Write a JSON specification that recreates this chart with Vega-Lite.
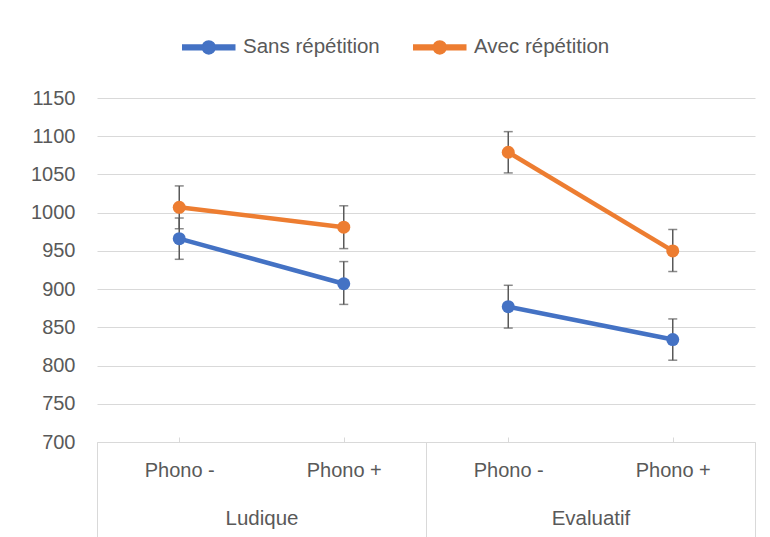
{
  "$schema": "https://vega.github.io/schema/vega-lite/v6.json",
  "width": 658,
  "height": 344,
  "autosize": {"type": "none"},
  "padding": {"left": 97, "top": 98, "right": 15, "bottom": 95},
  "background": "white",
  "config": {
    "view": {"stroke": null},
    "font": "Liberation Sans",
    "axis": {"labelColor": "#595959", "labelFontSize": 20, "titleColor": "#595959"}
  },
  "data": {
    "values": [
      {"groupe": "Ludique", "phono": "Phono -", "cat": "Ludique|Phono -", "serie": "Sans répétition", "moyenne": 966, "bas": 939, "haut": 993},
      {"groupe": "Ludique", "phono": "Phono +", "cat": "Ludique|Phono +", "serie": "Sans répétition", "moyenne": 907, "bas": 880, "haut": 936},
      {"groupe": "Evaluatif", "phono": "Phono -", "cat": "Evaluatif|Phono -", "serie": "Sans répétition", "moyenne": 877, "bas": 849, "haut": 905},
      {"groupe": "Evaluatif", "phono": "Phono +", "cat": "Evaluatif|Phono +", "serie": "Sans répétition", "moyenne": 834, "bas": 807, "haut": 861},
      {"groupe": "Ludique", "phono": "Phono -", "cat": "Ludique|Phono -", "serie": "Avec répétition", "moyenne": 1007, "bas": 979, "haut": 1035},
      {"groupe": "Ludique", "phono": "Phono +", "cat": "Ludique|Phono +", "serie": "Avec répétition", "moyenne": 981, "bas": 953, "haut": 1009},
      {"groupe": "Evaluatif", "phono": "Phono -", "cat": "Evaluatif|Phono -", "serie": "Avec répétition", "moyenne": 1079, "bas": 1052, "haut": 1106},
      {"groupe": "Evaluatif", "phono": "Phono +", "cat": "Evaluatif|Phono +", "serie": "Avec répétition", "moyenne": 950, "bas": 923, "haut": 978}
    ]
  },
  "layer": [
    {
      "encoding": {
        "x": {
          "field": "cat",
          "type": "ordinal",
          "sort": ["Ludique|Phono -", "Ludique|Phono +", "Evaluatif|Phono -", "Evaluatif|Phono +"],
          "scale": {"type": "point", "padding": 0.5},
          "axis": {
            "title": null,
            "orient": "bottom",
            "labelExpr": "split(datum.value, '|')[1]",
            "labelAngle": 0,
            "domain": true,
            "domainColor": "#D9D9D9",
            "domainWidth": 1,
            "ticks": true,
            "tickSize": -5,
            "tickColor": "#D9D9D9",
            "tickWidth": 1,
            "labelPadding": 23,
            "grid": false
          }
        }
      },
      "layer": [
        {
          "mark": {"type": "rule", "color": "#595959", "strokeWidth": 1.5},
          "encoding": {
            "y": {
              "field": "bas",
              "type": "quantitative",
              "scale": {"domain": [700, 1150], "nice": false, "zero": false},
              "axis": {"title": null, "values": [700, 750, 800, 850, 900, 950, 1000, 1050, 1100, 1150], "format": "d", "labelOverlap": false, "domain": false, "ticks": false, "labelPadding": 22, "grid": true, "gridColor": "#D9D9D9", "gridWidth": 1}
            },
            "y2": {"field": "haut"}
          }
        },
        {
          "mark": {"type": "tick", "color": "#595959", "size": 9, "thickness": 1.5, "orient": "horizontal"},
          "encoding": {
            "y": {
              "field": "bas",
              "type": "quantitative",
              "scale": {"domain": [700, 1150], "nice": false, "zero": false},
              "axis": {"title": null, "values": [700, 750, 800, 850, 900, 950, 1000, 1050, 1100, 1150], "format": "d", "labelOverlap": false, "domain": false, "ticks": false, "labelPadding": 22, "grid": true, "gridColor": "#D9D9D9", "gridWidth": 1}
            }
          }
        },
        {
          "mark": {"type": "tick", "color": "#595959", "size": 9, "thickness": 1.5, "orient": "horizontal"},
          "encoding": {
            "y": {
              "field": "haut",
              "type": "quantitative",
              "scale": {"domain": [700, 1150], "nice": false, "zero": false},
              "axis": {"title": null, "values": [700, 750, 800, 850, 900, 950, 1000, 1050, 1100, 1150], "format": "d", "labelOverlap": false, "domain": false, "ticks": false, "labelPadding": 22, "grid": true, "gridColor": "#D9D9D9", "gridWidth": 1}
            }
          }
        },
        {
          "mark": {"type": "line", "strokeWidth": 4.5},
          "encoding": {
            "y": {
              "field": "moyenne",
              "type": "quantitative",
              "scale": {"domain": [700, 1150], "nice": false, "zero": false},
              "axis": {"title": null, "values": [700, 750, 800, 850, 900, 950, 1000, 1050, 1100, 1150], "format": "d", "labelOverlap": false, "domain": false, "ticks": false, "labelPadding": 22, "grid": true, "gridColor": "#D9D9D9", "gridWidth": 1}
            },
            "detail": {"field": "groupe"},
            "color": {
              "field": "serie",
              "type": "nominal",
              "scale": {"domain": ["Sans répétition", "Avec répétition"], "range": ["#4472C4", "#ED7D31"]},
              "legend": {
                "title": null,
                "orient": "none",
                "direction": "horizontal",
                "legendX": 101.5,
                "legendY": -61,
                "padding": 0,
                "labelFontSize": 20.5,
                "labelColor": "#595959",
                "symbolType": "M-4,-0.35H4V0.35H-4Z M1,0A1,1,0,1,1,-1,0A1,1,0,1,1,1,0Z",
                "symbolSize": 169,
                "labelOffset": 24,
                "columnPadding": 30,
                "encode": {"symbols": {"update": {"fill": {"scale": "color", "field": "value"}, "stroke": {"value": "transparent"}, "opacity": {"value": 1}}}}
              }
            }
          }
        },
        {
          "mark": {"type": "point", "filled": true, "opacity": 1, "size": 169, "shape": "circle"},
          "encoding": {
            "y": {
              "field": "moyenne",
              "type": "quantitative",
              "scale": {"domain": [700, 1150], "nice": false, "zero": false},
              "axis": {"title": null, "values": [700, 750, 800, 850, 900, 950, 1000, 1050, 1100, 1150], "format": "d", "labelOverlap": false, "domain": false, "ticks": false, "labelPadding": 22, "grid": true, "gridColor": "#D9D9D9", "gridWidth": 1}
            },
            "color": {
              "field": "serie",
              "type": "nominal",
              "scale": {"domain": ["Sans répétition", "Avec répétition"], "range": ["#4472C4", "#ED7D31"]}
            }
          }
        }
      ]
    },
    {
      "mark": {"type": "rect", "opacity": 0},
      "encoding": {
        "x": {
          "field": "groupe",
          "type": "nominal",
          "sort": ["Ludique", "Evaluatif"],
          "scale": {"type": "band", "paddingInner": 0, "paddingOuter": 0},
          "axis": {
            "title": null,
            "orient": "bottom",
            "labelAngle": 0,
            "domain": false,
            "grid": false,
            "ticks": true,
            "tickBand": "extent",
            "tickSize": 100,
            "tickColor": "#D9D9D9",
            "tickWidth": 1,
            "labelPadding": -34,
            "labelFontSize": 20.5
          }
        }
      }
    }
  ],
  "resolve": {"scale": {"x": "independent"}, "axis": {"x": "independent"}}
}
